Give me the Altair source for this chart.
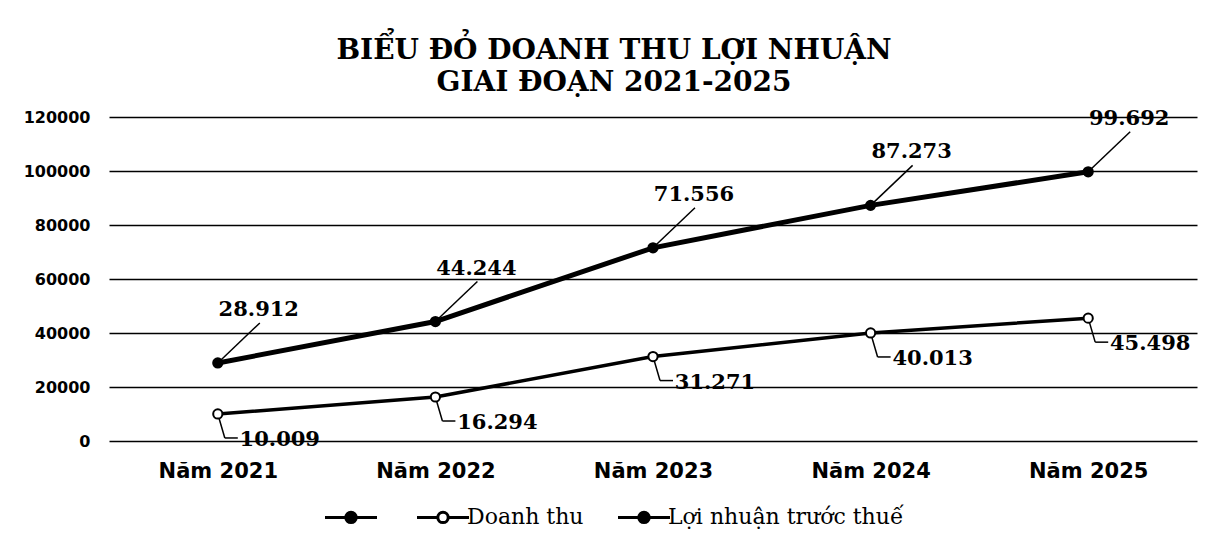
import altair as alt
import pandas as pd

years = ["Năm 2021", "Năm 2022", "Năm 2023", "Năm 2024", "Năm 2025"]
doanh_thu = [10009, 16294, 31271, 40013, 45498]
loi_nhuan = [28912, 44244, 71556, 87273, 99692]
doanh_thu_labels = ["10.009", "16.294", "31.271", "40.013", "45.498"]
loi_nhuan_labels = ["28.912", "44.244", "71.556", "87.273", "99.692"]
series_names = [" ", "Doanh thu", "Lợi nhuận trước thuế"]
y_ticks = [0, 20000, 40000, 60000, 80000, 100000, 120000]
title_lines = ["BIỂU ĐỎ DOANH THU LỢI NHUẬN", "GIAI  ĐOẠN 2021-2025"]

df = pd.DataFrame({
    "year": years * 2,
    "value": doanh_thu + loi_nhuan,
    "label": doanh_thu_labels + loi_nhuan_labels,
    "series": ["Doanh thu"] * len(years) + ["Lợi nhuận trước thuế"] * len(years),
})

LEGEND_PATH = "M-5,0L-1,0A1,1,0,1,1,1,0L5,0M1,0A1,1,0,1,1,-1,0"

x_enc = alt.X(
    "year:N", sort=years, title=None,
    scale=alt.Scale(type="point", padding=0.5),
    axis=alt.Axis(labelAngle=0, labelFont="DejaVu Sans", labelFontWeight="bold",
                  labelFontSize=21, labelColor="black", labelPadding=19,
                  ticks=False, domain=False, grid=False),
)
y_enc = alt.Y(
    "value:Q", title=None,
    scale=alt.Scale(domain=[0, 120000], nice=False),
    axis=alt.Axis(values=y_ticks, format="d", labelFont="DejaVu Sans",
                  labelFontWeight="bold", labelFontSize=16, labelColor="black",
                  labelPadding=19, ticks=False, domain=False, grid=True,
                  gridColor="black", gridWidth=1.5, gridOpacity=1),
)

base = alt.Chart(df).encode(x=x_enc, y=y_enc)
upper = base.transform_filter(alt.datum.series == "Lợi nhuận trước thuế")
lower = base.transform_filter(alt.datum.series == "Doanh thu")

line_up = upper.mark_line(color="black", strokeWidth=5)
line_lo = lower.mark_line(color="black", strokeWidth=3.5)

points = base.mark_point(shape="circle", filled=True, size=85, stroke="black",
                         strokeWidth=2, opacity=1).encode(
    fill=alt.Fill(
        "series:N",
        scale=alt.Scale(domain=series_names, range=["black", "white", "black"]),
        legend=alt.Legend(
            title=None, orient="none", legendX=231, legendY=389,
            direction="horizontal", symbolType=LEGEND_PATH, symbolSize=108,
            symbolStrokeWidth=3, symbolStrokeColor="black",
            labelFont="DejaVu Serif", labelFontSize=22, labelColor="black",
            labelOffset=13, labelLimit=400, columnPadding=28, padding=0,
        ),
    )
)

lead_up = upper.mark_rule(color="black", strokeWidth=1.5, x2Offset=42, y2Offset=-40).encode(
    x2=alt.X2("year"), y2=alt.Y2("value"))
lead_lo1 = lower.mark_rule(color="black", strokeWidth=1.5, x2Offset=7, y2Offset=24).encode(
    x2=alt.X2("year"), y2=alt.Y2("value"))
lead_lo2 = lower.mark_rule(color="black", strokeWidth=1.5, xOffset=7, x2Offset=20,
                           yOffset=24, y2Offset=24).encode(
    x2=alt.X2("year"), y2=alt.Y2("value"))

text_up = upper.mark_text(font="DejaVu Serif", fontWeight="bold", fontSize=21,
                          color="black", dx=41, dy=-47, baseline="alphabetic",
                          align="center").encode(text="label:N")
text_lo = lower.mark_text(font="DejaVu Serif", fontWeight="bold", fontSize=21,
                          color="black", dx=62, dy=32, baseline="alphabetic",
                          align="center").encode(text="label:N")

chart = alt.layer(
    line_up, line_lo, lead_up, lead_lo1, lead_lo2, points, text_up, text_lo
).properties(
    width=1088, height=324,
    autosize=alt.AutoSizeParams(type="none"),
    padding={"left": 101, "top": 109, "right": 6, "bottom": 90},
    background="white",
    title=alt.Title(text=title_lines, font="DejaVu Serif", fontSize=28,
                    fontWeight="bold", color="black", anchor="middle",
                    dx=-39, offset=11, lineHeight=32),
).configure_view(stroke=None)

chart.save("out.html", embed_options={"renderer": "svg", "actions": False})
